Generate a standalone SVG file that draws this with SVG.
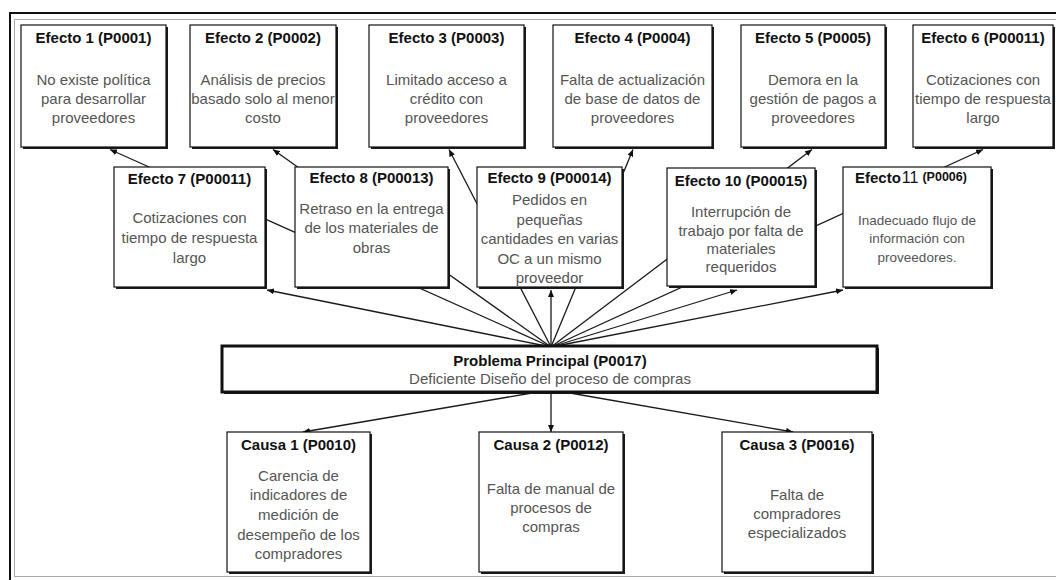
<svg xmlns="http://www.w3.org/2000/svg" width="1056" height="580" viewBox="0 0 1056 580">
<defs>
<marker id="ah" markerUnits="userSpaceOnUse" markerWidth="8" markerHeight="6" refX="7" refY="3" orient="auto">
<path d="M0,0 L7,3 L0,6 z" fill="#111"/>
</marker>
</defs>
<style>
.sh{fill:#1a1a1a}
.bx{fill:#fff;stroke:#111;stroke-width:1.2}
.t{font-family:"Liberation Sans",Arial,sans-serif;font-weight:bold;font-size:15px;fill:#111;text-anchor:middle}
.b{font-family:"Liberation Sans",Arial,sans-serif;font-size:15px;fill:#555;text-anchor:middle}
.s{font-family:"Liberation Sans",Arial,sans-serif;font-size:13.5px;fill:#555;text-anchor:middle}
.c line{stroke:#1a1a1a;stroke-width:1.3;marker-end:url(#ah)}
</style>
<rect width="1056" height="580" fill="#fff"/>
<rect x="10" y="13" width="1060" height="580" fill="none" stroke="#111" stroke-width="2"/>
<rect x="14.5" y="19.5" width="1060" height="557" fill="none" stroke="#aaa" stroke-width="1"/>

<g id="connectors" class="c">
<line x1="551" y1="347" x2="110" y2="149.5"/>
<line x1="551" y1="347" x2="273" y2="149.5"/>
<line x1="551" y1="347" x2="449" y2="149.5"/>
<line x1="551" y1="347" x2="633" y2="149.5"/>
<line x1="551" y1="347" x2="812" y2="149.5"/>
<line x1="551" y1="347" x2="983" y2="149.5"/>
<line x1="551" y1="347" x2="267" y2="290"/>
<line x1="551" y1="347" x2="551" y2="290"/>
<line x1="551" y1="347" x2="737" y2="290"/>
<line x1="551" y1="347" x2="843" y2="290"/>
<line x1="532" y1="393" x2="303" y2="432"/>
<line x1="551" y1="393" x2="551" y2="432"/>
<line x1="570" y1="393" x2="793" y2="432"/>
</g>

<g id="efecto1">
<rect class="sh" x="23" y="27" width="145" height="122"/>
<rect class="bx" x="21" y="25" width="145" height="122"/>
<text class="t" x="93.5" y="43">Efecto 1 (P0001)</text>
<text class="b" x="93.5" y="85">No existe política</text>
<text class="b" x="93.5" y="104">para desarrollar</text>
<text class="b" x="93.5" y="123">proveedores</text>
</g>
<g id="efecto2">
<rect class="sh" x="192" y="27" width="146" height="122"/>
<rect class="bx" x="190" y="25" width="146" height="122"/>
<text class="t" x="263" y="43">Efecto 2 (P0002)</text>
<text class="b" x="263" y="85">Análisis de precios</text>
<text class="b" x="263" y="104">basado solo al menor</text>
<text class="b" x="263" y="123">costo</text>
</g>
<g id="efecto3">
<rect class="sh" x="371" y="27" width="155" height="122"/>
<rect class="bx" x="369" y="25" width="155" height="122"/>
<text class="t" x="446.5" y="43">Efecto 3 (P0003)</text>
<text class="b" x="446.5" y="85">Limitado acceso a</text>
<text class="b" x="446.5" y="104">crédito con</text>
<text class="b" x="446.5" y="123">proveedores</text>
</g>
<g id="efecto4">
<rect class="sh" x="555" y="27" width="159" height="122"/>
<rect class="bx" x="553" y="25" width="159" height="122"/>
<text class="t" x="632.5" y="43">Efecto 4 (P0004)</text>
<text class="b" x="632.5" y="85">Falta de actualización</text>
<text class="b" x="632.5" y="104">de base de datos de</text>
<text class="b" x="632.5" y="123">proveedores</text>
</g>
<g id="efecto5">
<rect class="sh" x="743" y="27" width="144" height="122"/>
<rect class="bx" x="741" y="25" width="144" height="122"/>
<text class="t" x="813" y="43">Efecto 5 (P0005)</text>
<text class="b" x="813" y="85">Demora en la</text>
<text class="b" x="813" y="104">gestión de pagos a</text>
<text class="b" x="813" y="123">proveedores</text>
</g>
<g id="efecto6">
<rect class="sh" x="915" y="27" width="140" height="122"/>
<rect class="bx" x="913" y="25" width="140" height="122"/>
<text class="t" x="983" y="43">Efecto 6 (P00011)</text>
<text class="b" x="983" y="85">Cotizaciones con</text>
<text class="b" x="983" y="104">tiempo de respuesta</text>
<text class="b" x="983" y="123">largo</text>
</g>

<g id="efecto7">
<rect class="sh" x="116" y="169" width="151" height="120"/>
<rect class="bx" x="114" y="167" width="151" height="120"/>
<text class="t" x="189.5" y="184">Efecto 7 (P00011)</text>
<text class="b" x="189.5" y="223">Cotizaciones con</text>
<text class="b" x="189.5" y="243">tiempo de respuesta</text>
<text class="b" x="189.5" y="263">largo</text>
</g>
<g id="efecto8">
<rect class="sh" x="297" y="169" width="153" height="120"/>
<rect class="bx" x="295" y="167" width="153" height="120"/>
<text class="t" x="371.5" y="183">Efecto 8 (P00013)</text>
<text class="b" x="371.5" y="214">Retraso en la entrega</text>
<text class="b" x="371.5" y="233">de los materiales de</text>
<text class="b" x="371.5" y="253">obras</text>
</g>
<g id="efecto9">
<rect class="sh" x="479" y="169" width="145" height="120"/>
<rect class="bx" x="477" y="167" width="145" height="120"/>
<text class="t" x="549.5" y="183">Efecto 9 (P00014)</text>
<text class="b" x="549.5" y="205">Pedidos en</text>
<text class="b" x="549.5" y="225">pequeñas</text>
<text class="b" x="549.5" y="244">cantidades en varias</text>
<text class="b" x="549.5" y="264">OC a un mismo</text>
<text class="b" x="549.5" y="283">proveedor</text>
</g>
<g id="efecto10">
<rect class="sh" x="669" y="170" width="148" height="118"/>
<rect class="bx" x="667" y="168" width="148" height="118"/>
<text class="t" x="741" y="186">Efecto 10 (P00015)</text>
<text class="b" x="741" y="217">Interrupción de</text>
<text class="b" x="741" y="236">trabajo por falta de</text>
<text class="b" x="741" y="254">materiales</text>
<text class="b" x="741" y="272">requeridos</text>
</g>
<g id="efecto11">
<rect class="sh" x="845" y="169" width="148" height="120"/>
<rect class="bx" x="843" y="167" width="148" height="120"/>
<text x="855" y="183" style="font-family:'Liberation Sans',Arial,sans-serif;fill:#111"><tspan font-weight="bold" font-size="15">Efecto</tspan><tspan font-size="16" dx="1">11</tspan><tspan font-weight="bold" font-size="12.5" dx="4" dy="-2">(P0006)</tspan></text>
<text class="s" x="917" y="225">Inadecuado flujo de</text>
<text class="s" x="917" y="243">información con</text>
<text class="s" x="917" y="262">proveedores.</text>
</g>

<g id="problema">
<rect class="sh" x="224" y="348" width="655" height="46"/>
<rect x="222" y="346" width="655" height="46" fill="#fff" stroke="#111" stroke-width="3"/>
<text class="t" x="550" y="366" font-size="14.5">Problema Principal (P0017)</text>
<text class="b" x="550" y="384">Deficiente Diseño del proceso de compras</text>
</g>

<g id="causa1">
<rect class="sh" x="229" y="434" width="143" height="140"/>
<rect class="bx" x="227" y="432" width="143" height="140"/>
<text class="t" x="298.5" y="450">Causa 1 (P0010)</text>
<text class="b" x="298.5" y="481">Carencia de</text>
<text class="b" x="298.5" y="500">indicadores de</text>
<text class="b" x="298.5" y="520">medición de</text>
<text class="b" x="298.5" y="540">desempeño de los</text>
<text class="b" x="298.5" y="559">compradores</text>
</g>
<g id="causa2">
<rect class="sh" x="481" y="434" width="144" height="140"/>
<rect class="bx" x="479" y="432" width="144" height="140"/>
<text class="t" x="551" y="450">Causa 2 (P0012)</text>
<text class="b" x="551" y="494">Falta de manual de</text>
<text class="b" x="551" y="513">procesos de</text>
<text class="b" x="551" y="532">compras</text>
</g>
<g id="causa3">
<rect class="sh" x="724" y="434" width="150" height="140"/>
<rect class="bx" x="722" y="432" width="150" height="140"/>
<text class="t" x="797" y="450">Causa 3 (P0016)</text>
<text class="b" x="797" y="500">Falta de</text>
<text class="b" x="797" y="519">compradores</text>
<text class="b" x="797" y="538">especializados</text>
</g>
</svg>
